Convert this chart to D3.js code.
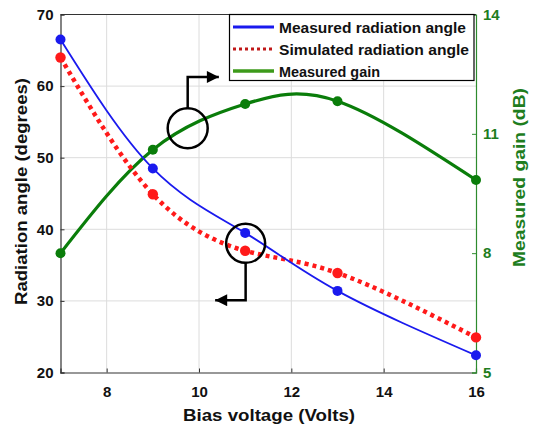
<!DOCTYPE html>
<html><head><meta charset="utf-8">
<script src="https://cdn.jsdelivr.net/npm/d3@7"></script>
<style>body{margin:0;background:#fff;} text{font-family:Arial,"Liberation Sans",sans-serif;font-weight:bold;}</style>
</head><body><svg id="c" width="534" height="428"></svg>
<script>
const voltages = [7, 9, 11, 13, 16];
const measuredAngle = [66.5, 48.5, 39.5, 31.4, 22.4];
const simulatedAngle = [64.0, 44.9, 37.0, 33.9, 24.9];
const measuredGain = [8.0, 10.6, 11.75, 11.82, 9.84];
const xTicks = [8, 10, 12, 14, 16];
const yLeftTicks = [20, 30, 40, 50, 60, 70];
const yRightTicks = [5, 8, 11, 14];
const legendLabels = ["Measured radiation angle", "Simulated radiation angle", "Measured gain"];

const svg = d3.select("#c");
const L = 60.5, R = 476, T = 14.5, B = 372.5;
const x = d3.scaleLinear().domain([7, 16]).range([L, R]);
const yL = d3.scaleLinear().domain([20, 70]).range([B, T]);
const yR = d3.scaleLinear().domain([5, 14]).range([B, T]);

// grid
const g = svg.append("g");
g.selectAll(".gx").data(xTicks.filter(d => d < 16)).enter().append("line")
  .attr("x1", d => x(d)).attr("x2", d => x(d)).attr("y1", T).attr("y2", B)
  .attr("stroke", "#dcdcdc").attr("stroke-width", 1);
g.selectAll(".gy").data(yLeftTicks.filter(d => d > 20 && d < 70)).enter().append("line")
  .attr("x1", L).attr("x2", R).attr("y1", d => yL(d)).attr("y2", d => yL(d))
  .attr("stroke", "#dcdcdc").attr("stroke-width", 1);

// axes
const ax = svg.append("g").attr("transform", `translate(0,${B})`)
  .call(d3.axisBottom(x).tickValues(xTicks).tickSize(-4).tickPadding(14).tickFormat(d3.format("d")));
ax.select(".domain").attr("stroke", "#333").attr("stroke-width", 1.2);
ax.selectAll(".tick line").attr("stroke", "#333");
ax.selectAll("text").attr("font-size", 15).attr("fill", "#111");

const ayl = svg.append("g").attr("transform", `translate(${L},0)`)
  .call(d3.axisLeft(yL).tickValues(yLeftTicks).tickSize(-4).tickPadding(7));
ayl.select(".domain").attr("stroke", "#333").attr("stroke-width", 1.2);
ayl.selectAll(".tick line").attr("stroke", "#333");
ayl.selectAll("text").attr("font-size", 15).attr("fill", "#111");

const ayr = svg.append("g").attr("transform", `translate(${R},0)`)
  .call(d3.axisRight(yR).tickValues(yRightTicks).tickSize(-4).tickPadding(7));
ayr.select(".domain").attr("stroke", "#2e8b2e").attr("stroke-width", 1.2);
ayr.selectAll(".tick line").attr("stroke", "#2e8b2e");
ayr.selectAll("text").attr("font-size", 15).attr("fill", "#1e7d1e");

// top border
svg.append("line").attr("x1", L).attr("x2", R).attr("y1", T).attr("y2", T).attr("stroke", "#333").attr("stroke-width", 1.2);

// series
const lineL = d3.line().x((d, i) => x(voltages[i])).y(d => yL(d)).curve(d3.curveNatural);
const lineR = d3.line().x((d, i) => x(voltages[i])).y(d => yR(d)).curve(d3.curveNatural);

svg.append("path").datum(measuredGain).attr("d", lineR).attr("fill", "none")
  .attr("stroke", "#0a7d0a").attr("stroke-width", 3.2);
svg.append("path").datum(simulatedAngle).attr("d", lineL).attr("fill", "none")
  .attr("stroke", "#ff1a1a").attr("stroke-width", 4.5).attr("stroke-dasharray", "4,4");
svg.append("path").datum(measuredAngle).attr("d", lineL).attr("fill", "none")
  .attr("stroke", "#1a1aee").attr("stroke-width", 1.8);

svg.selectAll(".mg").data(measuredGain).enter().append("circle")
  .attr("cx", (d, i) => x(voltages[i])).attr("cy", d => yR(d)).attr("r", 5).attr("fill", "#0a7d0a");
svg.selectAll(".sa").data(simulatedAngle).enter().append("circle")
  .attr("cx", (d, i) => x(voltages[i])).attr("cy", d => yL(d)).attr("r", 5.2).attr("fill", "#ff1a1a");
svg.selectAll(".ma").data(measuredAngle).enter().append("circle")
  .attr("cx", (d, i) => x(voltages[i])).attr("cy", d => yL(d)).attr("r", 5).attr("fill", "#1a1aee");

// annotations
const defs = svg.append("defs");
defs.append("marker").attr("id", "ah").attr("viewBox", "0 0 10 10").attr("refX", 10).attr("refY", 5)
  .attr("markerWidth", 17).attr("markerHeight", 12).attr("markerUnits", "userSpaceOnUse").attr("orient", "auto")
  .append("path").attr("d", "M0,0 L10,5 L0,10 Z").attr("fill", "#000");

const c1 = { cx: x(9.755), cy: yR(11.14), r: 20 };
svg.append("circle").attr("cx", c1.cx).attr("cy", c1.cy).attr("r", c1.r).attr("fill", "none").attr("stroke", "#000").attr("stroke-width", 2.5);
svg.append("path").attr("d", `M${c1.cx},${c1.cy - c1.r} V${yR(12.43)} H${x(10.43)}`).attr("fill", "none")
  .attr("stroke", "#000").attr("stroke-width", 2.5).attr("marker-end", "url(#ah)");

const c2 = { cx: x(11.01), cy: yL(38.04), r: 19.5 };
svg.append("circle").attr("cx", c2.cx).attr("cy", c2.cy).attr("r", c2.r).attr("fill", "none").attr("stroke", "#000").attr("stroke-width", 2.5);
svg.append("path").attr("d", `M${c2.cx},${c2.cy + c2.r} V${yL(30.1)} H${x(10.35)}`).attr("fill", "none")
  .attr("stroke", "#000").attr("stroke-width", 2.5).attr("marker-end", "url(#ah)");

// legend
const lg = svg.append("g");
lg.append("rect").attr("x", 229.5).attr("y", T).attr("width", 244.5).attr("height", 66)
  .attr("fill", "#fff").attr("stroke", "#000").attr("stroke-width", 1.2);
const lgStyles = [
  { stroke: "#1a1aee", w: 3, dash: null, len: 187 },
  { stroke: "#c01818", w: 3, dash: "3,3", len: 190 },
  { stroke: "#3d9a1a", w: 3.5, dash: null, len: 101 }
];
legendLabels.forEach((t, i) => {
  const yy = 27 + i * 22;
  lg.append("line").attr("x1", 233).attr("x2", 274).attr("y1", yy).attr("y2", yy)
    .attr("stroke", lgStyles[i].stroke).attr("stroke-width", lgStyles[i].w)
    .attr("stroke-dasharray", lgStyles[i].dash);
  lg.append("text").attr("x", 279).attr("y", yy + 5.5).attr("font-size", 15).attr("fill", "#111")
    .attr("textLength", lgStyles[i].len).attr("lengthAdjust", "spacingAndGlyphs").text(t);
});

// axis titles
svg.append("text").attr("x", 183).attr("y", 420.5)
  .attr("font-size", 17).attr("fill", "#111")
  .attr("textLength", 172).attr("lengthAdjust", "spacingAndGlyphs").text("Bias voltage (Volts)");
svg.append("text").attr("transform", `translate(27,305) rotate(-90)`)
  .attr("font-size", 16.5).attr("fill", "#111")
  .attr("textLength", 227).attr("lengthAdjust", "spacingAndGlyphs").text("Radiation angle (degrees)");
svg.append("text").attr("transform", `translate(525,267) rotate(-90)`)
  .attr("font-size", 16.5).attr("fill", "#1e7d1e")
  .attr("textLength", 179).attr("lengthAdjust", "spacingAndGlyphs").text("Measured gain (dB)");
</script></body></html>
